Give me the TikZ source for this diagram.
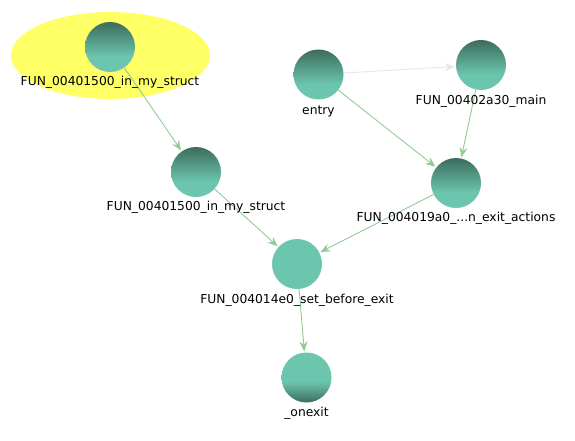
\documentclass[tikz,border=0pt]{standalone}
\usepackage{fontspec}
\setmainfont{DejaVu Sans}
\usetikzlibrary{arrows.meta}
\definecolor{nodelight}{HTML}{6CC6AE}
\definecolor{nodedark}{HTML}{3D6C5D}
\definecolor{edgegreen}{HTML}{92CB92}
\definecolor{edgegray}{HTML}{E6E6E6}
\definecolor{selyellow}{HTML}{FFFF66}
\pgfdeclareverticalshading{downshade}{100bp}{color(0bp)=(nodelight); color(25bp)=(nodelight); color(40bp)=(nodelight); color(75bp)=(nodedark); color(100bp)=(nodedark)}
\pgfdeclareverticalshading{upshade}{100bp}{color(0bp)=(nodedark); color(25bp)=(nodedark); color(46bp)=(nodelight); color(75bp)=(nodelight); color(100bp)=(nodelight)}
\tikzset{
  fnode/.style={circle, minimum size=50bp, inner sep=0pt, shading=downshade},
  flatnode/.style={circle, minimum size=50bp, inner sep=0pt, fill=nodelight},
  upnode/.style={circle, minimum size=50bp, inner sep=0pt, shading=upshade},
  lbl/.style={anchor=base, inner sep=0pt, font=\fontsize{12.3bp}{14bp}\selectfont},
  edge/.style={draw=edgegreen, line width=0.9bp, -{Stealth[length=10bp,width=8bp,inset=3.5bp]}, shorten >=1bp},
  grayedge/.style={draw=edgegray, line width=0.9bp, -{Stealth[length=10bp,width=8bp,inset=3.5bp]}, shorten >=1bp},
}
\begin{document}
\begin{tikzpicture}[x=1bp,y=-1bp]
\useasboundingbox (0,0) rectangle (575,441);
\fill[selyellow] (110.5,55.5) ellipse [x radius=99.5, y radius=43.5];
\node[fnode] (A) at (110,47) {};
\node[fnode] (B) at (196,172) {};
\node[fnode] (E) at (318.5,74.5) {};
\node[fnode] (M) at (481,65) {};
\node[fnode] (X) at (456,183) {};
\node[flatnode] (S) at (297,264) {};
\node[upnode] (O) at (306.5,377.5) {};
\draw[edge] (A) -- (B);
\draw[grayedge] (E) -- (M);
\draw[edge] (E) -- (X);
\draw[edge] (M) -- (X);
\draw[edge] (X) -- (S);
\draw[edge] (B) -- (S);
\draw[edge] (S) -- (O);
\node[lbl] (lA) at (110,86) {FUN\_00401500\_in\_my\_struct};
\node[lbl] (lB) at (196,211) {FUN\_00401500\_in\_my\_struct};
\node[lbl] (lE) at (318.5,114.5) {entry};
\node[lbl] (lM) at (481,104.5) {FUN\_00402a30\_main};
\node[lbl] (lX) at (456,222) {FUN\_004019a0\_...n\_exit\_actions};
\node[lbl] (lS) at (297,303.5) {FUN\_004014e0\_set\_before\_exit};
\node[lbl] (lO) at (306.5,416.5) {\_onexit};
\end{tikzpicture}
\end{document}
